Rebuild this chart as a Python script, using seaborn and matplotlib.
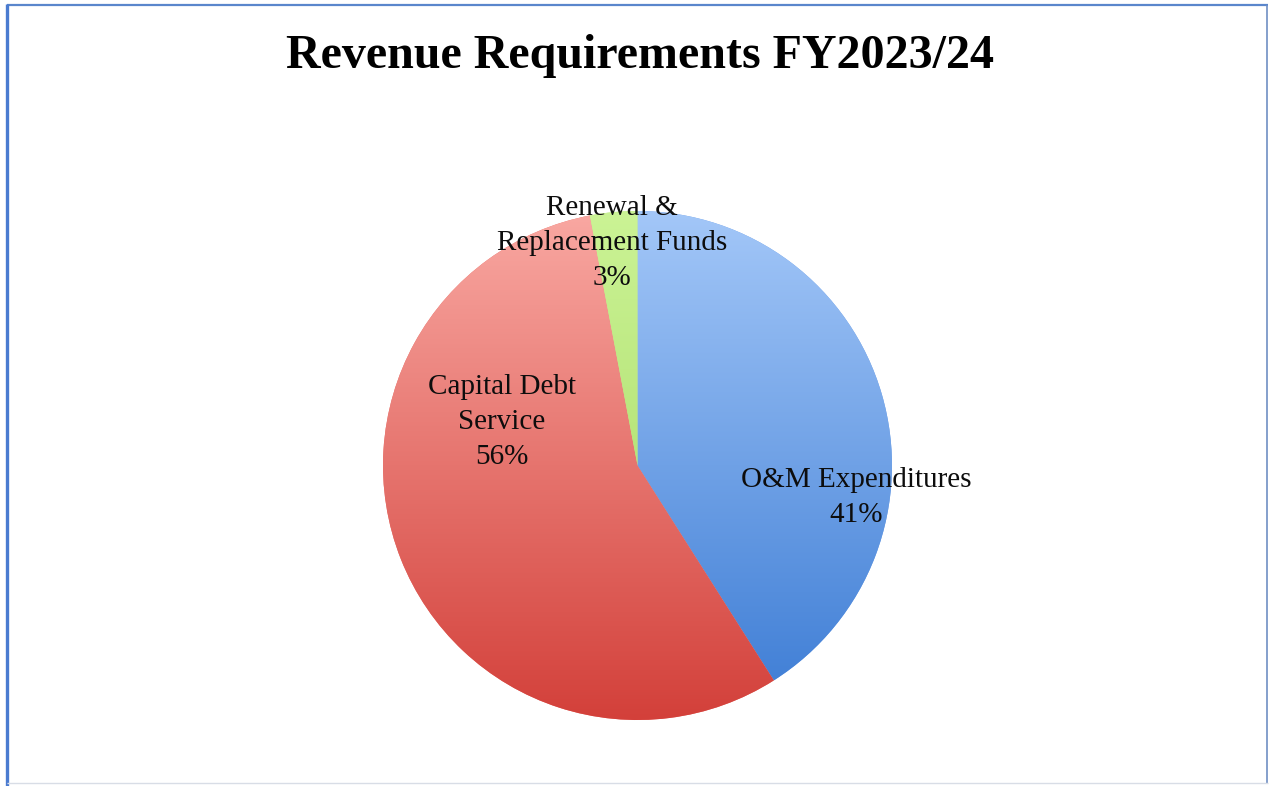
import numpy as np
import matplotlib
matplotlib.use("Agg")
import matplotlib.pyplot as plt
from matplotlib.colors import LinearSegmentedColormap
from matplotlib.lines import Line2D
import seaborn as sns

# ---- data ----
categories = ["O&M Expenditures", "Capital Debt Service", "Renewal & Replacement Funds"]
values = [41, 56, 3]
label_texts = ["O&M Expenditures\n41%", "Capital Debt\nService\n56%", "Renewal &\nReplacement Funds\n3%"]
title = "Revenue Requirements FY2023/24"

# ---- style ----
sns.set_theme(style="white")
plt.rcParams["font.family"] = ["Liberation Serif", "DejaVu Serif"]

top_colors = ["#a3c7f8", "#f9a8a2", "#cbf395"]
bottom_colors = ["#3b7bd4", "#d3403a", "#a2d65e"]
base_colors = sns.color_palette(["#6f9fe6", "#e87068", "#b8e57a"])

W, H, DPI = 1270, 786, 100
fig = plt.figure(figsize=(W / DPI, H / DPI), dpi=DPI)
fig.patch.set_facecolor("white")

cx, cy, R = 637.5, 465.5, 254.5
ax = fig.add_axes([(cx - R) / W, (H - cy - R) / H, 2 * R / W, 2 * R / H])
ax.set_facecolor("none")

wedges, _ = ax.pie(values, colors=base_colors, startangle=90, counterclock=False,
                   radius=1.0, center=(0, 0), wedgeprops=dict(linewidth=0))
ax.set_aspect("equal")
ax.axis("off")

grad = np.linspace(0, 1, 256).reshape(-1, 1)
for w, tc, bc in zip(wedges, top_colors, bottom_colors):
    cmap = LinearSegmentedColormap.from_list("g", [tc, bc])
    im = ax.imshow(grad, cmap=cmap, extent=[-1, 1, -1, 1], origin="upper",
                   aspect="auto", zorder=w.get_zorder() + 0.1, interpolation="bilinear")
    im.set_clip_path(w)

ax.set_xlim(-1, 1)
ax.set_ylim(-1, 1)

# data labels (layout positions relative to pie center, in radius units)
label_pos = [(0.86, -0.124), (-0.532, 0.171), (-0.10, 0.874)]
for txt, (lx, ly) in zip(label_texts, label_pos):
    ax.text(lx, ly, txt, ha="center", va="center", fontsize=21,
            color="#0d0d0d", linespacing=1.45, zorder=10)

fig.text(640 / W, 1 - 56 / H, title, ha="center", va="center",
         fontsize=34.6, fontweight="bold", color="black")

# outer border
def fline(x0, y0, x1, y1, color, lw):
    fig.add_artist(Line2D([x0 / W, x1 / W], [1 - y0 / H, 1 - y1 / H],
                          transform=fig.transFigure, color=color, linewidth=lw,
                          solid_capstyle="butt", zorder=20))

fline(7, 5, 1268, 5, "#5a86cc", 1.6)
fline(7, 4, 7, 786, "#4a7bd0", 2.4)
fline(1267, 5, 1267, 784, "#6f8fc4", 1.2)
fline(7, 783, 1268, 783, "#d8dde6", 1.0)

fig.savefig("out.png", dpi=DPI)
